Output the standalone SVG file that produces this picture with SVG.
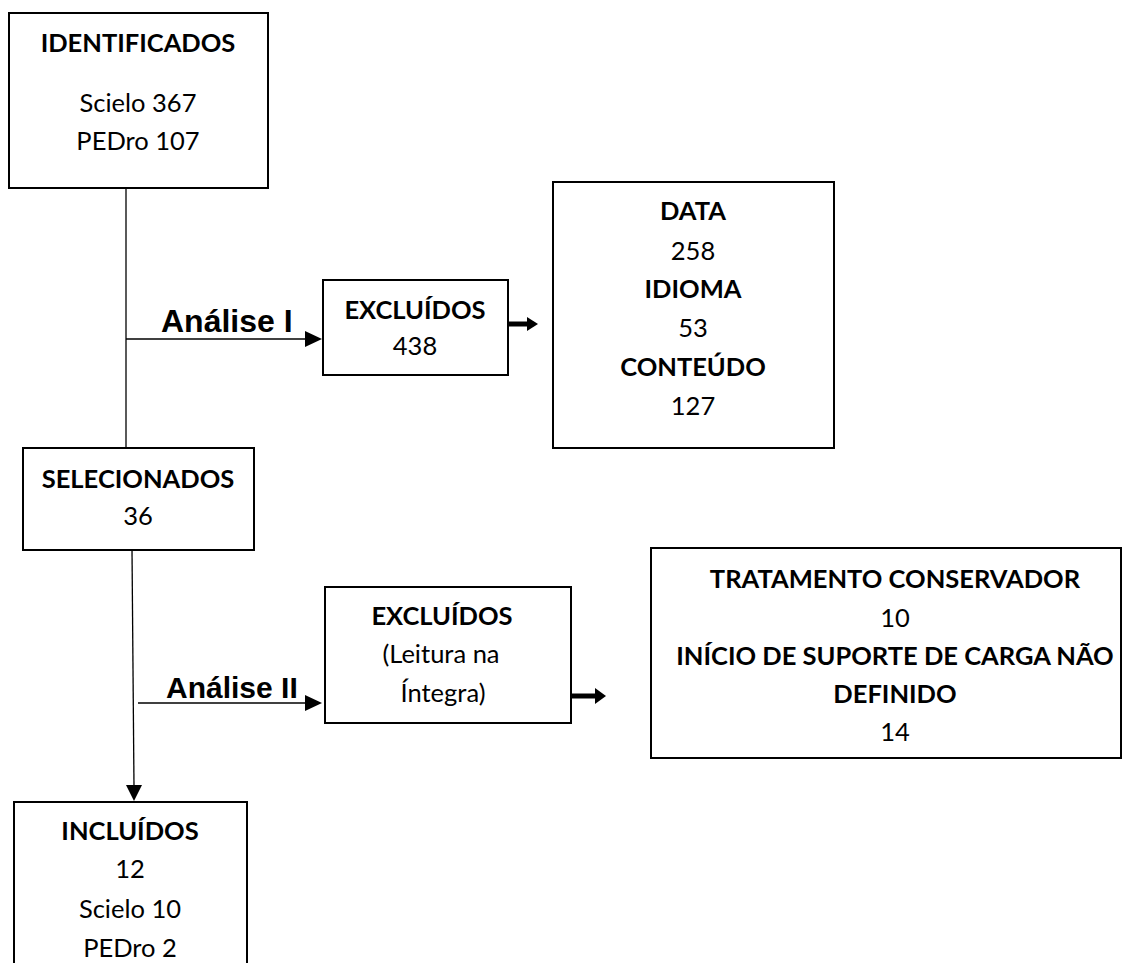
<svg xmlns="http://www.w3.org/2000/svg" width="1124" height="963" viewBox="0 0 1124 963">
<style>
.box{fill:#fff;stroke:#000;stroke-width:2}
.t{font-family:Lato,"Open Sans",sans-serif;font-size:25.5px;fill:#000;text-anchor:middle}
.b{font-weight:bold}
.lbl{font-family:"Liberation Sans",Arial,sans-serif;font-size:32px;font-weight:bold;fill:#000}
.thin{stroke:#000;stroke-width:1.3;fill:none}
.thick{stroke:#000;stroke-width:5;fill:none}
</style>
<rect width="1124" height="963" fill="#fff"/>
<g id="connectors">
<line class="thin" x1="126" y1="184" x2="126" y2="449"/>
<line class="thin" x1="126" y1="339" x2="308" y2="339"/>
<polygon points="305,331 322,339 305,347"/>
<line class="thin" x1="132" y1="550" x2="134" y2="787"/>
<polygon points="126,785 142,785 134,801"/>
<line class="thin" x1="138" y1="703" x2="308" y2="703"/>
<polygon points="305,695 322,703 305,711"/>
<line class="thick" x1="509" y1="324" x2="529" y2="324"/>
<polygon points="527,317 538,324 527,331"/>
<line class="thick" x1="572" y1="696" x2="597" y2="696"/>
<polygon points="595,688 606,696 595,704"/>
<text class="lbl" x="161" y="332">Análise I</text>
<text class="lbl" x="166" y="698" style="font-size:30px">Análise II</text>
</g>
<g id="identificados">
<rect class="box" x="9" y="13" width="259" height="175"/>
<text class="t b" x="138" y="52">IDENTIFICADOS</text>
<text class="t" x="138" y="112">Scielo 367</text>
<text class="t" x="138" y="150">PEDro 107</text>
</g>
<g id="excluidos1">
<rect class="box" x="323" y="280" width="185" height="95"/>
<text class="t b" x="415" y="319">EXCLUÍDOS</text>
<text class="t" x="415" y="355">438</text>
</g>
<g id="motivos1">
<rect class="box" x="553" y="182" width="281" height="266"/>
<text class="t b" x="693" y="220">DATA</text>
<text class="t" x="693" y="260">258</text>
<text class="t b" x="693" y="298">IDIOMA</text>
<text class="t" x="693" y="337">53</text>
<text class="t b" x="693" y="376">CONTEÚDO</text>
<text class="t" x="693" y="415">127</text>
</g>
<g id="selecionados">
<rect class="box" x="23" y="448" width="231" height="102"/>
<text class="t b" x="138" y="488">SELECIONADOS</text>
<text class="t" x="138" y="525">36</text>
</g>
<g id="excluidos2">
<rect class="box" x="325" y="587" width="246" height="136"/>
<text class="t b" x="442" y="625">EXCLUÍDOS</text>
<text class="t" x="441" y="663">(Leitura na</text>
<text class="t" x="443" y="702">Íntegra)</text>
</g>
<g id="motivos2">
<rect class="box" x="651" y="548" width="470" height="210"/>
<text class="t b" x="895" y="588">TRATAMENTO CONSERVADOR</text>
<text class="t" x="895" y="627">10</text>
<text class="t b" x="895" y="665">INÍCIO DE SUPORTE DE CARGA NÃO</text>
<text class="t b" x="895" y="703">DEFINIDO</text>
<text class="t" x="895" y="741">14</text>
</g>
<g id="incluidos">
<rect class="box" x="14" y="802" width="233" height="170"/>
<text class="t b" x="130" y="840">INCLUÍDOS</text>
<text class="t" x="130" y="878">12</text>
<text class="t" x="130" y="918">Scielo 10</text>
<text class="t" x="130" y="957">PEDro 2</text>
</g>
</svg>
